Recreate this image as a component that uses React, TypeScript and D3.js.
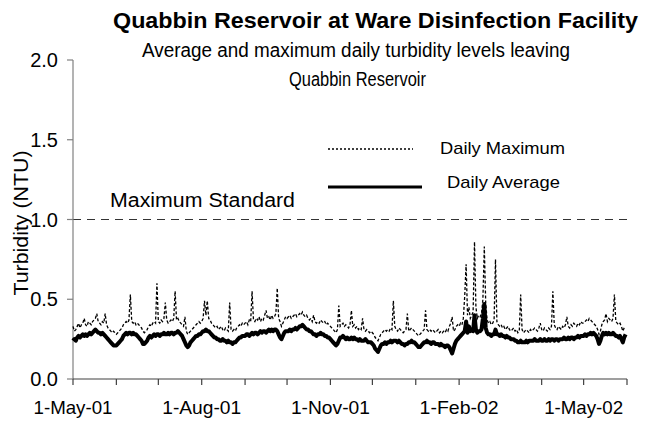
import React from "react";
import * as d3 from "d3";

// ---- data (daily values, 1-May-01 .. 31-May-02) ----
const startDate = new Date(2001, 4, 1);
const axisEnd = new Date(2002, 5, 1);

const dailyAverage: number[] = [
  // May-01
  0.24,0.25,0.24,0.26,0.27,0.26,0.27,0.28,0.27,0.28,0.27,0.28,0.29,0.28,0.29,0.30,0.31,0.30,0.29,0.29,0.28,0.29,0.28,0.27,0.26,0.25,0.24,0.23,0.22,0.21,0.21,
  // Jun-01
  0.21,0.22,0.23,0.24,0.25,0.27,0.28,0.29,0.28,0.29,0.29,0.28,0.29,0.28,0.28,0.27,0.26,0.25,0.24,0.22,0.22,0.23,0.24,0.26,0.27,0.26,0.27,0.28,0.27,0.28,
  // Jul-01
  0.28,0.27,0.28,0.28,0.29,0.28,0.28,0.29,0.28,0.29,0.29,0.28,0.29,0.29,0.30,0.29,0.28,0.27,0.25,0.23,0.21,0.20,0.21,0.23,0.24,0.25,0.26,0.27,0.27,0.28,0.28,
  // Aug-01
  0.29,0.30,0.30,0.31,0.30,0.30,0.29,0.28,0.27,0.26,0.26,0.25,0.25,0.24,0.24,0.25,0.24,0.24,0.23,0.24,0.23,0.23,0.22,0.23,0.23,0.24,0.25,0.26,0.26,0.27,0.27,
  // Sep-01
  0.27,0.28,0.28,0.27,0.28,0.29,0.28,0.29,0.29,0.28,0.29,0.30,0.29,0.30,0.30,0.29,0.30,0.31,0.30,0.31,0.30,0.31,0.31,0.30,0.28,0.26,0.25,0.27,0.29,0.30,
  // Oct-01
  0.30,0.30,0.31,0.30,0.31,0.31,0.32,0.31,0.32,0.33,0.33,0.34,0.33,0.32,0.31,0.31,0.30,0.30,0.29,0.28,0.28,0.27,0.28,0.28,0.29,0.28,0.28,0.27,0.27,0.26,0.26,
  // Nov-01
  0.25,0.24,0.23,0.22,0.21,0.22,0.24,0.26,0.26,0.27,0.26,0.25,0.26,0.25,0.25,0.26,0.25,0.26,0.25,0.25,0.24,0.25,0.24,0.24,0.24,0.25,0.24,0.23,0.23,0.23,
  // Dec-01
  0.22,0.21,0.19,0.18,0.17,0.19,0.21,0.22,0.22,0.23,0.22,0.23,0.23,0.24,0.23,0.24,0.24,0.24,0.23,0.24,0.23,0.22,0.22,0.21,0.22,0.22,0.23,0.23,0.24,0.23,0.23,
  // Jan-02
  0.22,0.21,0.20,0.20,0.21,0.22,0.23,0.23,0.24,0.23,0.23,0.22,0.23,0.23,0.22,0.22,0.22,0.21,0.22,0.21,0.21,0.20,0.21,0.21,0.20,0.18,0.16,0.19,0.22,0.24,0.25,
  // Feb-02
  0.26,0.27,0.28,0.29,0.30,0.36,0.29,0.33,0.30,0.31,0.30,0.40,0.31,0.29,0.30,0.30,0.31,0.38,0.47,0.32,0.29,0.28,0.28,0.27,0.28,0.28,0.31,0.28,
  // Mar-02
  0.28,0.27,0.28,0.27,0.27,0.26,0.27,0.26,0.26,0.25,0.25,0.25,0.24,0.24,0.23,0.23,0.24,0.23,0.23,0.23,0.24,0.23,0.24,0.24,0.24,0.24,0.25,0.24,0.24,0.24,0.25,
  // Apr-02
  0.24,0.24,0.25,0.24,0.24,0.25,0.24,0.25,0.25,0.24,0.25,0.25,0.24,0.25,0.25,0.25,0.26,0.25,0.25,0.26,0.25,0.26,0.26,0.25,0.26,0.26,0.27,0.26,0.27,0.27,
  // May-02
  0.27,0.28,0.27,0.28,0.28,0.29,0.28,0.29,0.28,0.27,0.25,0.22,0.24,0.27,0.29,0.28,0.29,0.28,0.29,0.28,0.28,0.29,0.28,0.27,0.27,0.26,0.27,0.25,0.23,0.26,0.28,
];

const dailyMaximum: number[] = [
  // May-01
  0.33,0.30,0.31,0.33,0.35,0.32,0.34,0.35,0.38,0.34,0.33,0.36,0.35,0.34,0.36,0.37,0.38,0.41,0.36,0.35,0.34,0.36,0.35,0.41,0.34,0.32,0.31,0.30,0.29,0.30,0.29,
  // Jun-01
  0.28,0.29,0.30,0.31,0.32,0.34,0.35,0.36,0.35,0.37,0.53,0.36,0.35,0.36,0.34,0.35,0.34,0.33,0.32,0.30,0.29,0.30,0.31,0.33,0.34,0.33,0.35,0.36,0.35,0.60,
  // Jul-01
  0.36,0.35,0.37,0.36,0.38,0.48,0.37,0.35,0.36,0.37,0.36,0.38,0.55,0.37,0.38,0.36,0.35,0.34,0.33,0.39,0.30,0.28,0.29,0.30,0.31,0.32,0.33,0.34,0.35,0.36,0.35,
  // Aug-01
  0.36,0.38,0.49,0.40,0.49,0.38,0.37,0.35,0.34,0.33,0.32,0.33,0.31,0.32,0.33,0.31,0.30,0.32,0.31,0.30,0.48,0.31,0.30,0.31,0.30,0.32,0.33,0.34,0.33,0.35,0.34,
  // Sep-01
  0.35,0.36,0.34,0.37,0.36,0.55,0.37,0.36,0.38,0.37,0.39,0.36,0.38,0.37,0.40,0.43,0.38,0.39,0.37,0.40,0.38,0.39,0.41,0.57,0.38,0.36,0.33,0.35,0.37,0.39,
  // Oct-01
  0.38,0.39,0.40,0.38,0.39,0.40,0.41,0.39,0.40,0.41,0.40,0.42,0.40,0.39,0.40,0.38,0.37,0.38,0.36,0.40,0.36,0.35,0.36,0.35,0.37,0.36,0.35,0.36,0.34,0.35,0.34,
  // Nov-01
  0.33,0.32,0.31,0.30,0.29,0.31,0.46,0.33,0.34,0.35,0.33,0.34,0.33,0.32,0.34,0.43,0.33,0.34,0.32,0.33,0.31,0.32,0.31,0.38,0.31,0.30,0.31,0.30,0.29,0.30,
  // Dec-01
  0.29,0.28,0.26,0.25,0.24,0.26,0.28,0.29,0.30,0.31,0.30,0.31,0.30,0.32,0.31,0.49,0.33,0.31,0.30,0.32,0.31,0.30,0.29,0.30,0.31,0.41,0.30,0.31,0.32,0.31,0.30,
  // Jan-02
  0.29,0.28,0.27,0.28,0.29,0.30,0.31,0.43,0.31,0.30,0.31,0.30,0.31,0.30,0.29,0.30,0.31,0.29,0.30,0.29,0.30,0.29,0.31,0.30,0.33,0.35,0.39,0.30,0.31,0.33,0.34,
  // Feb-02
  0.33,0.35,0.34,0.38,0.52,0.72,0.40,0.45,0.38,0.40,0.42,0.86,0.45,0.38,0.40,0.39,0.41,0.50,0.83,0.48,0.37,0.35,0.36,0.34,0.35,0.37,0.75,0.36,
  // Mar-02
  0.34,0.33,0.34,0.32,0.33,0.31,0.32,0.33,0.31,0.30,0.31,0.32,0.30,0.31,0.29,0.30,0.53,0.31,0.29,0.30,0.31,0.30,0.29,0.31,0.30,0.31,0.32,0.31,0.30,0.32,0.35,
  // Apr-02
  0.31,0.30,0.32,0.31,0.30,0.32,0.31,0.33,0.55,0.34,0.32,0.31,0.33,0.32,0.31,0.33,0.32,0.34,0.39,0.33,0.32,0.34,0.33,0.35,0.34,0.33,0.35,0.34,0.36,0.35,
  // May-02
  0.35,0.36,0.37,0.36,0.38,0.37,0.36,0.35,0.34,0.33,0.31,0.28,0.30,0.34,0.36,0.37,0.41,0.36,0.38,0.37,0.36,0.38,0.53,0.36,0.35,0.34,0.35,0.33,0.30,0.32,0.33,
];

const maxStandard = 1.0;
const yTicks = [0, 0.5, 1.0, 1.5, 2.0];
const xLabelDates = [
  new Date(2001, 4, 1),
  new Date(2001, 7, 1),
  new Date(2001, 10, 1),
  new Date(2002, 1, 1),
  new Date(2002, 4, 1),
];
const titleText = "Quabbin Reservoir at Ware Disinfection Facility";
const subtitleLines = ["Average and maximum daily turbidity levels leaving", "Quabbin Reservoir"];
const yAxisTitle = "Turbidity (NTU)";
const standardLabel = "Maximum Standard";
const legendLabels = ["Daily Maximum", "Daily Average"];

const FONT = "'Liberation Sans', Arial, sans-serif";

export default function App() {
  const W = 646, H = 426;
  const x = d3.scaleTime().domain([startDate, axisEnd]).range([73, 627]);
  const y = d3.scaleLinear().domain([0, 2]).range([379, 60]);

  const dates = dailyAverage.map((_, i) => d3.timeDay.offset(startDate, i));
  const line = d3
    .line<number>()
    .x((_, i) => x(dates[i]))
    .y((v) => y(v));

  const monthTicks = d3.timeMonth.range(startDate, d3.timeDay.offset(axisEnd, 1));
  const fmt = d3.timeFormat("%-d-%b-%y");

  return (
    <svg
      width={W}
      height={H}
      style={{ position: "absolute", left: 0, top: 0, background: "#fff" }}
      fontFamily={FONT}
    >
      <rect x={0} y={0} width={W} height={H} fill="#fff" />
      {/* titles */}
      <text x={113} y={28} fontSize={22} fontWeight="bold" textLength={525} lengthAdjust="spacingAndGlyphs" fill="#000">
        {titleText}
      </text>
      <text x={142} y={57} fontSize={19.5} textLength={428} lengthAdjust="spacingAndGlyphs" fill="#000">
        {subtitleLines[0]}
      </text>
      <text x={289} y={86} fontSize={19.5} textLength={137} lengthAdjust="spacingAndGlyphs" fill="#000">
        {subtitleLines[1]}
      </text>

      {/* y axis title */}
      <text
        transform={`translate(28,223) rotate(-90)`}
        textAnchor="middle"
        fontSize={21}
        textLength={145}
        lengthAdjust="spacingAndGlyphs"
        fill="#000"
      >
        {yAxisTitle}
      </text>

      {/* standard line */}
      <line
        x1={x(startDate)}
        x2={x(axisEnd)}
        y1={y(maxStandard)}
        y2={y(maxStandard)}
        stroke="#333"
        strokeWidth={1}
        strokeDasharray="8,6"
      />
      <text x={110} y={207} fontSize={19.5} textLength={185} lengthAdjust="spacingAndGlyphs" fill="#000">
        {standardLabel}
      </text>

      {/* y axis */}
      <line x1={73} x2={73} y1={y(2)} y2={y(0)} stroke="#808080" strokeWidth={1.2} />
      {yTicks.map((t) => (
        <g key={t}>
          <line x1={67} x2={73} y1={y(t)} y2={y(t)} stroke="#808080" strokeWidth={1.2} />
          <text x={58} y={y(t) + 7} fontSize={20} textAnchor="end" fill="#000">
            {d3.format(".1f")(t)}
          </text>
        </g>
      ))}

      {/* series */}
      <path d={line(dailyMaximum) || ""} fill="none" stroke="#000" strokeWidth={1.3} strokeDasharray="3,2" />
      <path d={line(dailyAverage) || ""} fill="none" stroke="#000" strokeWidth={4} strokeLinejoin="round" />

      {/* x axis */}
      <line x1={x(startDate)} x2={x(axisEnd)} y1={379} y2={379} stroke="#404040" strokeWidth={1.2} />
      {monthTicks.map((d, i) => (
        <line key={i} x1={x(d)} x2={x(d)} y1={379} y2={385} stroke="#404040" strokeWidth={1.2} />
      ))}
      {xLabelDates.map((d, i) => (
        <text key={i} x={x(d)} y={414} fontSize={19} textLength={79} lengthAdjust="spacingAndGlyphs" textAnchor="middle" fill="#000">
          {fmt(d)}
        </text>
      ))}

      {/* legend */}
      <line x1={328} x2={413} y1={149} y2={149} stroke="#000" strokeWidth={1.5} strokeDasharray="2,2" />
      <text x={440} y={154} fontSize={17} textLength={125} lengthAdjust="spacingAndGlyphs" fill="#000">
        {legendLabels[0]}
      </text>
      <line x1={328} x2={422} y1={187} y2={187} stroke="#000" strokeWidth={3} />
      <text x={447} y={188} fontSize={17} textLength={113} lengthAdjust="spacingAndGlyphs" fill="#000">
        {legendLabels[1]}
      </text>
    </svg>
  );
}
